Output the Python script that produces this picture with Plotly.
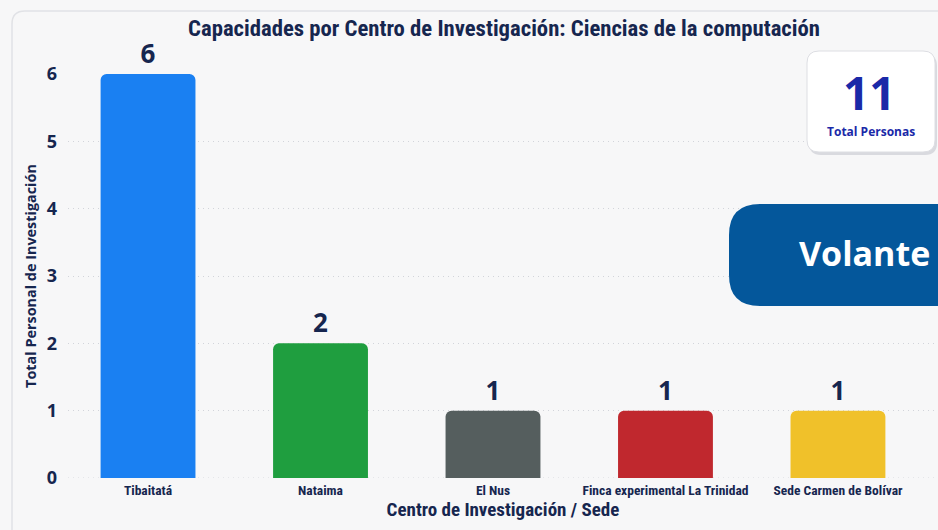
import plotly.graph_objects as go

categories = ["Tibaitatá", "Nataima", "El Nus", "Finca experimental La Trinidad", "Sede Carmen de Bolívar"]
values = [6, 2, 1, 1, 1]
bar_colors = ["#1a80f2", "#1f9e3f", "#555e5e", "#c0282e", "#f0c12a"]
total_personas = 11
y_ticks = [0, 1, 2, 3, 4, 5, 6]

NAVY = "#16264f"
OS = "Open Sans, sans-serif"
COND = "Liberation Sans Narrow, Roboto Condensed, Arial Narrow, sans-serif"

L, T, B = 68, 74, 52
PW, PH = 870, 404


def px(x):
    return (x - L) / PW


def py(y):
    return (T + PH - y) / PH


fig = go.Figure()
fig.add_trace(go.Bar(
    x=categories, y=values,
    marker=dict(color=bar_colors, cornerradius=6, line=dict(width=0)),
    width=0.55,
    text=[str(v) for v in values], textposition="outside",
    textfont=dict(size=26, color=NAVY, family=OS, weight="bold"),
    cliponaxis=False,
))

fig.update_layout(
    width=938, height=530,
    margin=dict(l=L, r=0, t=T, b=B),
    paper_bgcolor="#f7f7f8", plot_bgcolor="rgba(0,0,0,0)",
    showlegend=False,
    title=dict(text="Capacidades por Centro de Investigación: Ciencias de la computación",
               x=504 / 938, xanchor="center", y=1 - 28 / 530, yanchor="middle",
               font=dict(family=COND, size=22.7, color=NAVY, weight="bold")),
    xaxis=dict(range=[-0.464, 4.58], showgrid=False, showline=False, zeroline=False,
               automargin=False, ticklabelstandoff=2,
               tickfont=dict(family=COND, size=13.5, color=NAVY, weight="bold"),
               title=dict(text="Centro de Investigación / Sede", standoff=6,
                          font=dict(family=COND, size=19, color=NAVY, weight="bold"))),
    yaxis=dict(range=[0, 6], tickvals=y_ticks, showgrid=True, gridcolor="#d2d4da",
               griddash="1px,4px", gridwidth=1, zeroline=False, showline=False,
               automargin=False, ticklabelstandoff=10,
               tickfont=dict(family=OS, size=18, color=NAVY, weight="bold"),
               title=dict(text="Total Personal de Investigación", standoff=6,
                          font=dict(family=OS, size=14.4, color=NAVY, weight="bold"))),
    bargap=0.45,
)

# zero gridline (dotted)
fig.add_shape(type="line", xref="paper", yref="y", x0=0, x1=1, y0=0, y1=0,
              line=dict(color="#d2d4da", width=1, dash="1px,4px"), layer="below")

# faint panel border
fig.add_shape(type="path", xref="paper", yref="paper",
              path=f"M {px(12)},{py(540)} L {px(12)},{py(24)} Q {px(12)},{py(11)} {px(25)},{py(11)} L {px(960)},{py(11)}",
              line=dict(color="#e1e2e6", width=1.5), layer="below")


def rrect(x0, y0, x1, y1, r):
    return (f"M {px(x0 + r)},{py(y0)} L {px(x1 - r)},{py(y0)} Q {px(x1)},{py(y0)} {px(x1)},{py(y0 + r)} "
            f"L {px(x1)},{py(y1 - r)} Q {px(x1)},{py(y1)} {px(x1 - r)},{py(y1)} "
            f"L {px(x0 + r)},{py(y1)} Q {px(x0)},{py(y1)} {px(x0)},{py(y1 - r)} "
            f"L {px(x0)},{py(y0 + r)} Q {px(x0)},{py(y0)} {px(x0 + r)},{py(y0)} Z")


# Total card (shadow + card)
fig.add_shape(type="path", xref="paper", yref="paper", path=rrect(809, 54, 937, 155, 12),
              fillcolor="#d9dadf", line=dict(width=0), layer="above")
fig.add_shape(type="path", xref="paper", yref="paper", path=rrect(807, 51, 935, 152, 12),
              fillcolor="#ffffff", line=dict(color="#dddee3", width=1), layer="above")
fig.add_annotation(xref="paper", yref="paper", x=px(869), y=py(92), xanchor="center", yanchor="middle",
                   text="<b>%d</b>" % total_personas, showarrow=False,
                   font=dict(family=OS, size=46, color="#1a29a8"))
fig.add_annotation(xref="paper", yref="paper", x=px(871), y=py(131), xanchor="center", yanchor="middle",
                   text="<b>Total Personas</b>", showarrow=False,
                   font=dict(family=OS, size=12, color="#1a29a8"))

# Volante pill
fig.add_shape(type="path", xref="paper", yref="paper",
              path=(f"M {px(760)},{py(204)} L {px(960)},{py(204)} L {px(960)},{py(306)} L {px(760)},{py(306)} "
                    f"Q {px(729)},{py(306)} {px(729)},{py(275)} L {px(729)},{py(235)} "
                    f"Q {px(729)},{py(204)} {px(760)},{py(204)} Z"),
              fillcolor="#04579b", line=dict(width=0), layer="above")
fig.add_annotation(xref="paper", yref="paper", x=px(864), y=py(253), xanchor="center", yanchor="middle",
                   text="<b>Volante</b>", showarrow=False,
                   font=dict(family=OS, size=34, color="#ffffff"))

fig.write_html("out.html", config={"displayModeBar": False},
               post_script="document.body.style.margin='0';document.body.style.overflow='hidden';")
